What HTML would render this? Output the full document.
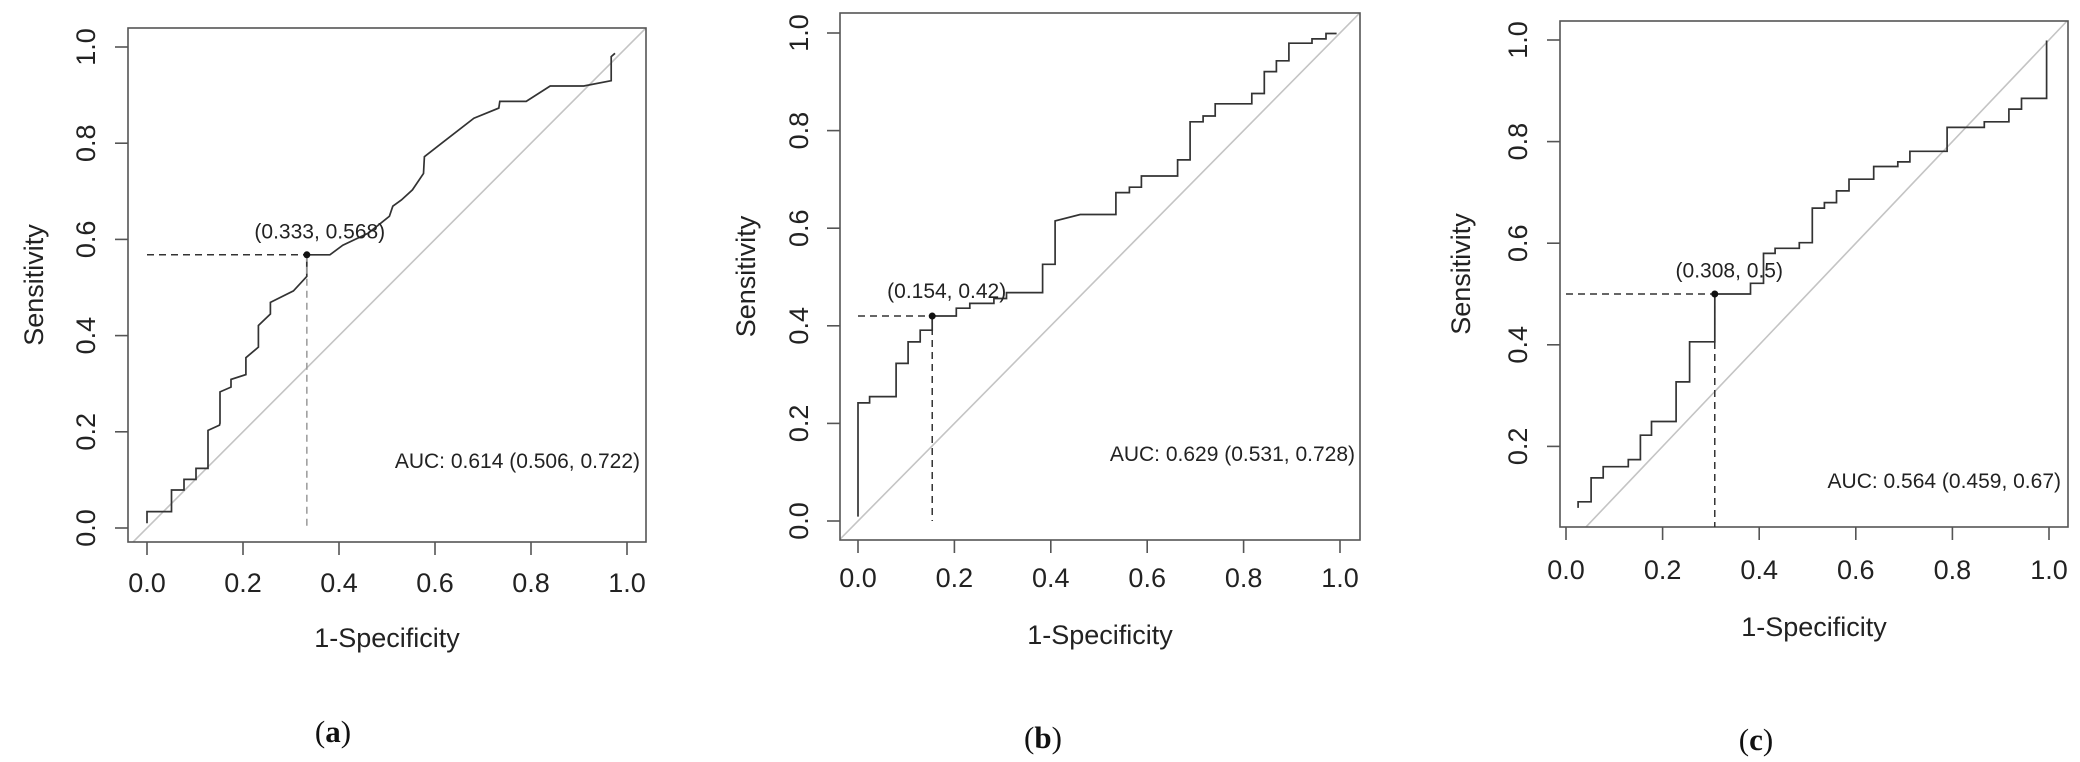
<!DOCTYPE html>
<html><head><meta charset="utf-8"><style>
html,body{margin:0;padding:0;background:#fff;}
svg{display:block;font-family:"Liberation Sans",sans-serif;}
</style></head><body>
<svg id="fig" width="2080" height="762" viewBox="0 0 2080 762" xmlns="http://www.w3.org/2000/svg"></svg>
<script>
// ---- data (1-specificity, sensitivity) ----
const aFpr = [0,0,0.051,0.051,0.077,0.077,0.102,0.102,0.127,0.127,0.151,0.152,0.152,0.175,0.175,0.206,0.206,0.232,0.232,0.257,0.257,0.305,0.333,0.333,0.381,0.408,0.461,0.505,0.512,0.53,0.553,0.576,0.578,0.614,0.681,0.733,0.735,0.79,0.84,0.91,0.967,0.967,0.975];
const aTpr = [0.01,0.034,0.034,0.079,0.079,0.101,0.101,0.124,0.124,0.203,0.214,0.218,0.283,0.293,0.309,0.319,0.354,0.376,0.421,0.445,0.469,0.493,0.523,0.568,0.568,0.588,0.613,0.648,0.669,0.682,0.703,0.737,0.772,0.800,0.852,0.873,0.887,0.887,0.919,0.919,0.930,0.980,0.987];
const bFpr = [0,0,0.024,0.024,0.079,0.079,0.104,0.104,0.129,0.129,0.154,0.154,0.204,0.204,0.232,0.232,0.282,0.282,0.308,0.308,0.383,0.383,0.409,0.409,0.461,0.535,0.535,0.563,0.563,0.588,0.588,0.663,0.663,0.689,0.689,0.716,0.716,0.741,0.741,0.817,0.817,0.843,0.843,0.868,0.868,0.894,0.894,0.942,0.942,0.971,0.971,0.993];
const bTpr = [0.009,0.242,0.242,0.255,0.255,0.323,0.323,0.367,0.367,0.391,0.391,0.42,0.42,0.436,0.436,0.446,0.446,0.456,0.456,0.468,0.468,0.526,0.526,0.615,0.628,0.628,0.673,0.673,0.684,0.684,0.707,0.707,0.740,0.740,0.818,0.818,0.830,0.830,0.855,0.855,0.876,0.876,0.921,0.921,0.943,0.943,0.979,0.979,0.988,0.988,0.999,0.999];
const cFpr = [0.025,0.025,0.052,0.052,0.077,0.077,0.129,0.129,0.154,0.154,0.177,0.177,0.228,0.228,0.256,0.256,0.308,0.308,0.382,0.382,0.409,0.409,0.433,0.433,0.483,0.483,0.510,0.510,0.535,0.535,0.560,0.560,0.586,0.586,0.637,0.637,0.687,0.687,0.712,0.712,0.789,0.789,0.866,0.866,0.917,0.917,0.943,0.943,0.995,0.995];
const cTpr = [0.079,0.091,0.091,0.138,0.138,0.160,0.160,0.174,0.174,0.222,0.222,0.249,0.249,0.327,0.327,0.406,0.406,0.5,0.5,0.521,0.521,0.580,0.580,0.590,0.590,0.601,0.601,0.669,0.669,0.680,0.680,0.703,0.703,0.726,0.726,0.751,0.751,0.760,0.760,0.781,0.781,0.828,0.828,0.839,0.839,0.864,0.864,0.885,0.885,0.999];
const xTicks = [0,0.2,0.4,0.6,0.8,1.0];
const xTickLabels = ["0.0","0.2","0.4","0.6","0.8","1.0"];
const abYTicks = [0,0.2,0.4,0.6,0.8,1.0];
const abYTickLabels = ["0.0","0.2","0.4","0.6","0.8","1.0"];
const cYTicks = [0.2,0.4,0.6,0.8,1.0];
const cYTickLabels = ["0.2","0.4","0.6","0.8","1.0"];
const cutoffX = [0.333,0.154,0.308];
const cutoffY = [0.568,0.42,0.5];
const cutoffLabels = ["(0.333, 0.568)","(0.154, 0.42)","(0.308, 0.5)"];
const aucLabels = ["AUC: 0.614 (0.506, 0.722)","AUC: 0.629 (0.531, 0.728)","AUC: 0.564 (0.459, 0.67)"];
const panelLetters = ["a","b","c"];

// ---- layout ----
const panels = [
  {x0:147,xs:480,y0:528,ys:481,L:128,R:646,T:28,B:542,ytl:85,ylab:33,xtl:582,xlab:637,letter:[333,732],auc:[640,460],lab:[0.36,0.618],fpr:aFpr,tpr:aTpr,yt:abYTicks,ytLab:abYTickLabels,vGray:true},
  {x0:858,xs:482,y0:521,ys:488,L:840,R:1360,T:13,B:540,ytl:798,ylab:745,xtl:577,xlab:634,letter:[1043,738],auc:[1355,453],lab:[0.184,0.473],fpr:bFpr,tpr:bTpr,yt:abYTicks,ytLab:abYTickLabels,vGray:false},
  {x0:1566,xs:483,y0:548,ys:508,L:1560,R:2068,T:21,B:527,ytl:1517,ylab:1460,xtl:569,xlab:626,letter:[1756,740],auc:[2061,480],lab:[0.338,0.548],fpr:cFpr,tpr:cTpr,yt:cYTicks,ytLab:cYTickLabels,vGray:false}
];
const NS="http://www.w3.org/2000/svg";
const svg=document.getElementById('fig');
function mk(tag,attrs,parent){const e=document.createElementNS(NS,tag);for(const k in attrs)e.setAttribute(k,attrs[k]);(parent||svg).appendChild(e);return e;}

panels.forEach((p,i)=>{
  const sx=v=>p.x0+p.xs*v, sy=v=>p.y0-p.ys*v;
  const g=mk('g',{});
  
  
  const cp=mk('clipPath',{id:'clip'+i},g);
  mk('rect',{x:p.L,y:p.T,width:p.R-p.L,height:p.B-p.T},cp);
  const d=mk('line',{x1:sx(-0.1),y1:sy(-0.1),x2:sx(1.1),y2:sy(1.1),stroke:'#c4c4c4','stroke-width':1.6,'clip-path':'url(#clip'+i+')'},g);
  
  
  const box=mk('rect',{x:p.L,y:p.T,width:p.R-p.L,height:p.B-p.T,fill:'none',stroke:'#555','stroke-width':1.6},g);
  
  
  xTicks.forEach((t,k)=>{
    const tk=mk('line',{x1:sx(t),y1:p.B,x2:sx(t),y2:p.B+13,stroke:'#555','stroke-width':1.6},g);
    
    
    const tl=mk('text',{x:sx(t),y:p.xtl+10,'font-size':27,fill:'#222','text-anchor':'middle'},g);
    tl.textContent=xTickLabels[k];
    
    
  });
  p.yt.forEach((t,k)=>{
    const tk=mk('line',{x1:p.L-13,y1:sy(t),x2:p.L,y2:sy(t),stroke:'#555','stroke-width':1.6},g);
    
    
    const tl=mk('text',{x:0,y:0,'font-size':27,fill:'#222','text-anchor':'middle',transform:'translate('+(p.ytl+10)+','+sy(t)+') rotate(-90)'},g);
    tl.textContent=p.ytLab[k];
    
    
  });
  const xt=mk('text',{x:(p.L+p.R)/2,y:p.xlab+10,'font-size':27,fill:'#222','text-anchor':'middle'},g);
  xt.textContent='1-Specificity';
  
  
  const yt=mk('text',{x:0,y:0,'font-size':27,fill:'#222','text-anchor':'middle',transform:'translate('+(p.ylab+10)+','+((p.T+p.B)/2)+') rotate(-90)'},g);
  yt.textContent='Sensitivity';
  
  
  const pts=p.fpr.map((v,k)=>sx(v).toFixed(1)+','+sy(p.tpr[k]).toFixed(1)).join(' ');
  const c=mk('polyline',{points:pts,fill:'none',stroke:'#333','stroke-width':1.7},g);
  
  
  const cx=cutoffX[i], cy=cutoffY[i];
  const h=mk('line',{x1:sx(0),y1:sy(cy),x2:sx(cx),y2:sy(cy),stroke:'#333','stroke-width':1.5,'stroke-dasharray':'7,5'},g);
  
  
  const v=mk('line',{x1:sx(cx),y1:sy(cy),x2:sx(cx),y2:Math.min(sy(0),p.B),stroke:p.vGray?'#999':'#333','stroke-width':1.5,'stroke-dasharray':'7,5'},g);
  
  
  const pt=mk('circle',{cx:sx(cx),cy:sy(cy),r:3.5,fill:'#111'},g);
  
  
  const lb=mk('text',{x:sx(p.lab[0]),y:sy(p.lab[1])+8,'font-size':21,fill:'#222','text-anchor':'middle'},g);
  lb.textContent=cutoffLabels[i];
  
  
  const au=mk('text',{x:p.auc[0],y:p.auc[1]+8,'font-size':21,fill:'#222','text-anchor':'end'},g);
  au.textContent=aucLabels[i];
  
  
  const pl=mk('text',{x:p.letter[0],y:p.letter[1]+10,'font-size':31,fill:'#111','text-anchor':'middle','font-family':'"Liberation Serif",serif'},g);
  
  
  const t1=mk('tspan',{},pl);t1.textContent='(';
  const t2=mk('tspan',{'font-weight':'bold'},pl);t2.textContent=panelLetters[i];
  const t3=mk('tspan',{},pl);t3.textContent=')';
});
</script>
</body></html>
